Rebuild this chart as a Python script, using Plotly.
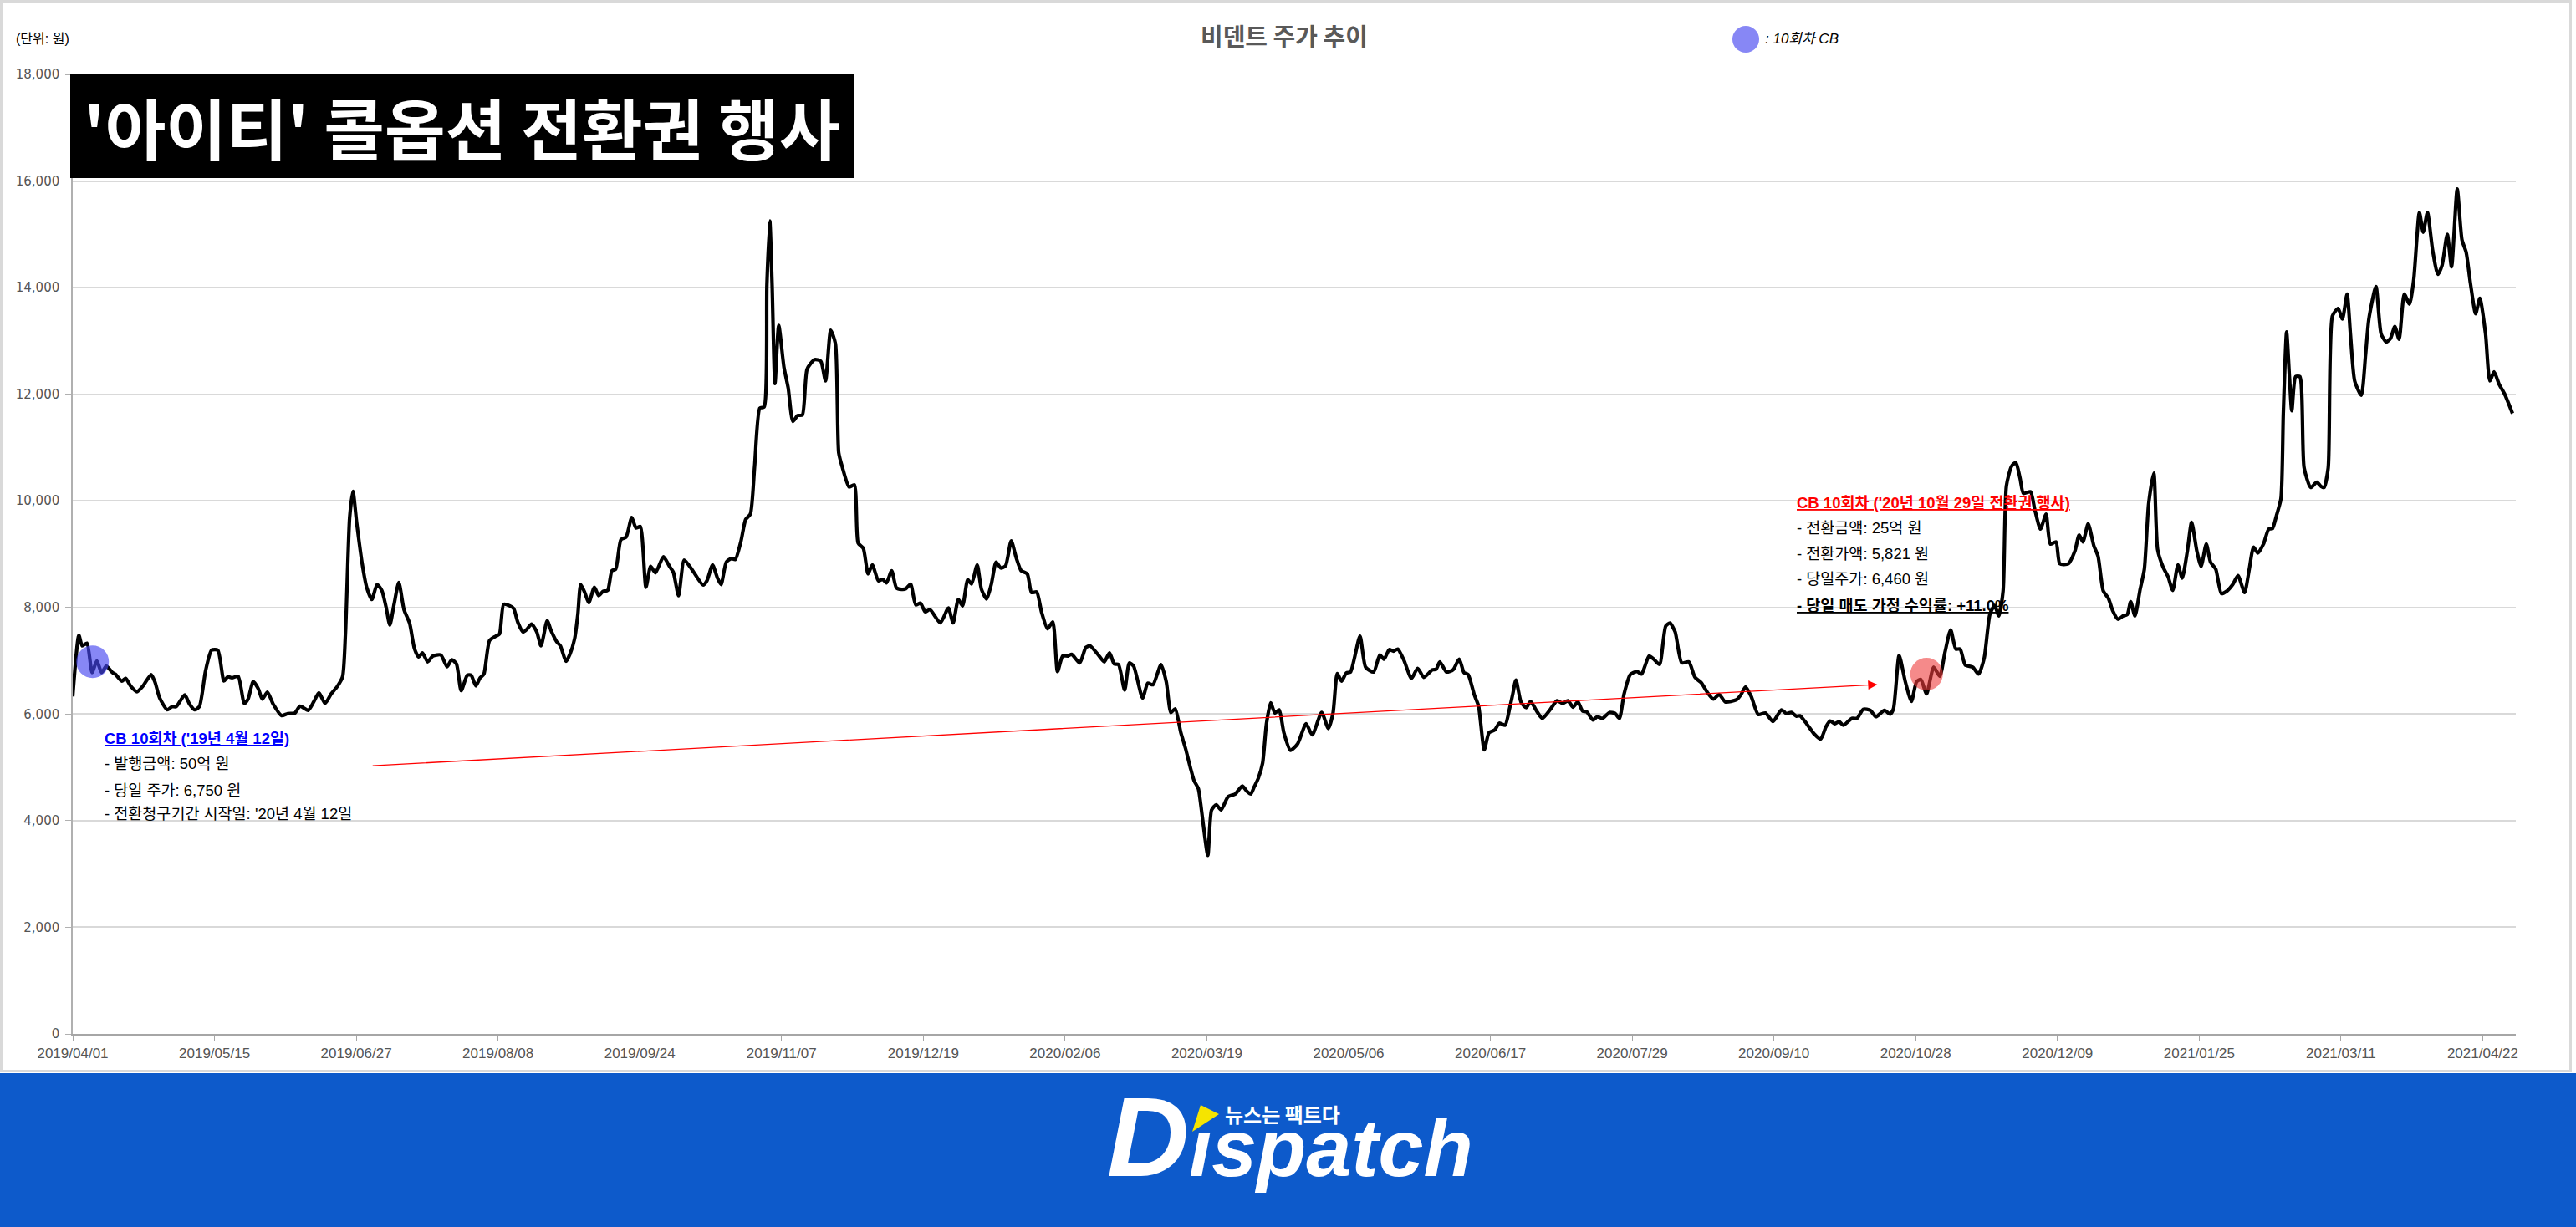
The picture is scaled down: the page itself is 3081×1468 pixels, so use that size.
import plotly.graph_objects as go

# ---------------- data ----------------
tick_labels = ["2019/04/01", "2019/05/15", "2019/06/27", "2019/08/08", "2019/09/24", "2019/11/07",
               "2019/12/19", "2020/02/06", "2020/03/19", "2020/05/06", "2020/06/17", "2020/07/29",
               "2020/09/10", "2020/10/28", "2020/12/09", "2021/01/25", "2021/03/11", "2021/04/22"]
tick_index = [i * 30 for i in range(len(tick_labels))]   # trading-day index of each label

# trading-day index (read positions) and closing price (원)
day_a = [0, 1.3, 2, 3, 4.1, 5.1, 6.1, 7.1, 8.4, 9, 10.4, 11.2, 12.3, 13.6, 14.8, 16.6, 17.4, 18.4, 20, 21,
         21.9, 23.7, 24.7, 25.8, 26.8, 28.1, 29.4, 30.7, 32, 32.8, 33.7, 35, 36.3, 37.1, 38.2, 39.3, 40.1,
         41.2, 42.4, 44.2, 45.5, 47, 48.1, 49.8, 51, 52.1, 53.4, 54.7, 56, 57.1, 57.7, 58.6, 59.3, 60.1,
         61.2, 62.2, 63.3, 64.4, 65.4, 66.3, 67.1, 68, 69, 70.1, 71.3, 72.3, 73.2, 74, 75.1, 76.2, 77.9,
         79.2, 80.2, 81.2, 82.2, 83.5, 84.3, 85.3, 86.2, 87, 88.2, 89.5, 90.3, 91.2, 92.5, 93.3, 94.2,
         95.3, 96.1, 97.1, 98.2, 99.1, 100.4, 101.3, 102.4, 103.2, 104.4, 105.2, 106.2, 106.9, 107.5,
         108.4, 109.2, 110.4, 111.3, 112.2, 113.2, 114.1, 114.9, 116, 117.1, 118.3, 119.2, 120.1, 121.3,
         122.3, 123.3, 125, 126.3]
price_a = [6330, 7480, 7280, 7330, 6780, 7000, 6780, 6900, 6780, 6750, 6620, 6670, 6520, 6420, 6520, 6740,
           6600, 6300, 6080, 6140, 6140, 6360, 6190, 6080, 6140, 6810, 7200, 7200, 6620, 6700, 6680, 6710,
           6200, 6280, 6610, 6470, 6280, 6410, 6190, 5970, 6010, 6020, 6150, 6070, 6230, 6400, 6200, 6380,
           6520, 6700, 7490, 9690, 10180, 9580, 8850, 8380, 8150, 8430, 8320, 8010, 7670, 8060, 8470, 7960,
           7700, 7230, 7070, 7150, 6980, 7090, 7110, 6890, 7020, 6940, 6440, 6730, 6730, 6530, 6680, 6750,
           7380, 7460, 7500, 8060, 8030, 7980, 7720, 7540, 7590, 7690, 7540, 7280, 7750, 7550, 7360, 7280,
           6990, 7120, 7410, 7880, 8430, 8270, 8090, 8380, 8220, 8300, 8320, 8690, 8720, 9270, 9320, 9690,
           9490, 9520, 8380, 8770, 8650, 8950, 8770]

day_b = [127.1, 128.2, 129.4, 131.2, 133.4, 134.2, 135.4, 136.4, 137.2, 138.3, 139.4, 140.2, 141.4, 142.4,
         143.4, 144.3, 145.4, 146.3, 146.9, 147.5, 148, 148.6, 149.4, 150.5, 151.4, 152.4, 153.4, 154.4,
         155.4, 157, 158.3, 159.3, 160.4, 161.4, 162.1, 162.8, 164.3, 165.4, 166.2, 167.3, 168.3, 169.2,
         170.5, 171.4, 172.2, 173.3, 174.3, 175.4, 176.3, 177.3, 178.4, 179.4, 180.4, 181.4, 183.6, 185.3,
         186.3, 187.4, 188.3, 189.4, 190.2, 191.4, 192.3, 193.4, 194.4, 195.4, 196.4, 197.4, 198.6, 199.7,
         200.7, 202, 202.9, 204, 205, 206.3, 207.4, 208.4, 209.5, 210.6, 211.4, 213.1, 214.4, 215.3, 217.2,
         218.3, 219.4, 220.4, 221.3, 222.6, 223.6, 224.5, 226.4, 227.5, 228.6, 230.3, 231.4, 232.4, 233.3]
price_b = [8660, 8220, 8890, 8690, 8420, 8500, 8800, 8560, 8430, 8850, 8920, 8900, 9240, 9650, 9750, 10650,
           11740, 11760, 14050, 15250, 14050, 12200, 13290, 12510, 12120, 11490, 11600, 11610, 12470, 12650,
           12620, 12250, 13200, 12950, 10900, 10650, 10260, 10300, 9210, 9110, 8630, 8800, 8500, 8530, 8460,
           8690, 8370, 8340, 8350, 8440, 8050, 8080, 7920, 7960, 7710, 7990, 7710, 8150, 8030, 8520, 8440,
           8800, 8340, 8160, 8440, 8850, 8740, 8780, 9250, 8920, 8690, 8630, 8280, 8290, 7920, 7600, 7730,
           6800, 7090, 7090, 7120, 6960, 7250, 7280, 7090, 6980, 7150, 6940, 6930, 6450, 6960, 6900, 6300,
           6580, 6550, 6930, 6610, 6030, 6100]

day_c = [234.5, 235.5, 236.5, 237.3, 238.2, 239, 240.2, 241, 242, 243, 244.5, 246, 247.5, 248.5, 249.3,
         250, 250.9, 251.8, 252.6, 253.5, 254.4, 255.3, 256.3, 257.7, 259.2, 261, 262.3, 264.3, 265.7, 266.7,
         267.6, 268.5, 269.5, 270.4, 272.4, 273.6, 275.3, 276.6, 277.5, 278.6, 279.5, 280.4, 281.7, 283.3,
         284.6, 285.9, 287.7, 288.5, 289.3, 290.7, 292.1, 293.4, 294.4, 295.3, 296.6, 297.5, 298.7, 299.7,
         300.9, 301.9, 303.1, 304.1, 304.7, 305.4, 306.5, 307.6, 308.5, 309.7, 311, 312.7, 314.1, 315.3,
         316.4, 317.5, 318.5, 319.5, 320.4, 321.7, 322.6, 323.7, 325.2, 326.4, 327.3, 328.3, 329.6, 331, 332,
         332.7, 333.6, 334.7, 335.8, 337.1, 338, 339.1, 340.5, 342, 343.3, 344.6, 345.9, 347.2, 348.4, 349.7,
         352.1, 353, 354, 355.2, 356.7, 358.2, 359.8, 361.6, 362.6, 363.7, 364.8, 365.5, 367, 368.6, 369.9,
         371, 371.9, 372.9, 373.8, 374.7, 376.5, 377.6, 378.9]
price_c = [5650, 5350, 5000, 4750, 4600, 4100, 3350, 4200, 4300, 4200, 4450, 4500, 4650, 4550, 4500,
           4630, 4800, 5080, 5810, 6210, 6020, 6080, 5650, 5320, 5440, 5820, 5610, 6030, 5730, 6020, 6760,
           6620, 6770, 6790, 7460, 6880, 6790, 7110, 7030, 7210, 7180, 7220, 7010, 6670, 6860, 6690, 6830,
           6840, 6980, 6790, 6830, 7030, 6780, 6740, 6360, 6150, 5330, 5650, 5700, 5830, 5790, 6120, 6360,
           6640, 6220, 6120, 6240, 6070, 5920, 6090, 6250, 6200, 6250, 6130, 6230, 6060, 6040, 5890, 5950,
           5920, 6030, 6010, 5920, 6380, 6740, 6800, 6750, 6900, 7090, 7020, 6930, 7650, 7710, 7540, 6960,
           6980, 6690, 6590, 6410, 6280, 6370, 6230, 6270, 6360, 6510, 6330, 5990, 6020, 5860, 6080, 6010,
           6030, 5960, 5970, 5810, 5620, 5530, 5760, 5870, 5820, 5860, 5790, 5920, 5920, 6090]

day_d = [380.4, 381.6, 383.4, 384.6, 385.3, 386.5, 387.8, 389.1, 390.2, 391.1, 392.3, 393.8, 395.1, 396.2,
         397.4, 398.5, 399.4, 400.5, 402.1, 403.3, 404.5, 405.7, 406.7, 407.6, 408.5, 409.2, 410.3, 411.2,
         412.1, 412.8, 414.3, 415.2, 416.4, 417.6, 418.5, 419.7, 420.5, 422.3, 423.7, 424.6, 425.4, 426.5,
         427.7, 428.6, 429.7, 430.8, 431.7, 432.8, 433.9, 434.8, 435.5, 436.4, 437.5, 438.4, 439.3, 440.4,
         441.2, 442.4, 443.4, 444.4, 445.5, 446.4, 447.5, 448.4, 449.5, 450.4, 451.5, 452.4, 453.5, 454.7,
         455.9, 457.1, 458.2, 459.6, 460.6, 461.5, 462.4, 463.6, 464.7, 465.5, 466.4, 467.3, 467.8, 468.5,
         469.1, 469.6, 470.4, 471.3, 472.2, 473.6, 474.9, 475.8, 476.4, 477.3, 478.2, 479.4, 480.3, 481.3,
         482, 482.9, 484.3, 485.2, 485.9, 487.4, 488.5, 489.6, 490.5, 491.4, 492.3, 493.4, 494.5, 495.4,
         496.6, 497.4, 498.3, 499.4, 500.5, 501.4, 502.5, 503.4, 504.6, 505.6, 506.5, 507.4, 508.5, 509.4,
         510.6, 511.5, 512.4, 513.5, 514.6, 516.3]
price_d = [6070, 5950, 6070, 6000, 6100, 7100, 6610, 6240, 6610, 6650, 6380, 6880, 6710, 7160, 7580, 7220,
           7220, 6920, 6880, 6750, 7050, 7870, 8040, 7840, 8310, 10280, 10650, 10720, 10420, 10140, 10170,
           9840, 9470, 9750, 9190, 9230, 8820, 8820, 9060, 9360, 9230, 9570, 9160, 8960, 8310, 8170, 7940,
           7780, 7840, 7870, 8110, 7840, 8340, 8720, 9940, 10520, 9090, 8750, 8580, 8320, 8800, 8550, 9060,
           9600, 9060, 8770, 9190, 8850, 8720, 8260, 8310, 8430, 8600, 8280, 8720, 9130, 9020, 9190, 9470,
           9480, 9740, 10040, 11640, 13170, 12320, 11690, 12330, 12330, 10620, 10250, 10350, 10270, 10250,
           10620, 13470, 13610, 13410, 13880, 13130, 12250, 11980, 12730, 13410, 14020, 13130, 12980, 13050,
           13270, 13030, 13880, 13690, 14150, 15410, 15040, 15410, 14700, 14250, 14420, 15000, 14390, 15850,
           14900, 14660, 14080, 13510, 13800, 13130, 12250, 12420, 12180, 12010, 11640]

days = day_a + day_b + day_c + day_d
prices = price_a + price_b + price_c + price_d

# CB event markers (issue 2019/04/12, conversion 2020/10/29)
event_day = [4.2, 392.3]
event_price = [6980, 6750]
event_color = ["rgba(70,70,240,0.65)", "rgba(238,60,60,0.6)"]

# arrow from issue note to conversion point
arrow_from = (63.2, 5030)
arrow_to = (381.9, 6555)

# ---------------- layout helpers ----------------
W, H = 3081, 1468
L, R, T, B = 87, 3009, 89, 1237


def px(x):
    return (x - L) / (R - L)


def py(y):
    return (B - y) / (B - T)


LAT = "Liberation Sans, Arial, Noto Sans CJK KR"
KR = "Noto Sans CJK KR"

fig = go.Figure()
fig.add_trace(go.Scatter(x=days, y=prices, mode="lines",
                         line=dict(color="black", width=4.2, shape="spline", smoothing=0.6),
                         hoverinfo="skip", showlegend=False))
fig.add_trace(go.Scatter(x=event_day, y=event_price, mode="markers",
                         marker=dict(size=39, color=event_color, line=dict(width=0)),
                         hoverinfo="skip", showlegend=False))

shapes = [
    # outer chart frame
    dict(type="rect", xref="paper", yref="paper", x0=px(1.5), x1=px(3074.5), y0=py(1281.5), y1=py(1.5),
         line=dict(color="#d9d9d9", width=3), layer="below"),
    # blue footer band
    dict(type="rect", xref="paper", yref="paper", x0=px(0), x1=px(W), y0=py(H), y1=py(1284),
         fillcolor="#0d5acb", line=dict(width=0), layer="below"),
    # black title box
    dict(type="rect", xref="paper", yref="paper", x0=px(84), x1=px(1021), y0=py(213), y1=py(89),
         fillcolor="black", line=dict(width=0), layer="above"),
    # legend bubble
    dict(type="circle", xref="paper", yref="paper", x0=px(2072), x1=px(2104), y0=py(63), y1=py(31),
         fillcolor="rgba(70,70,240,0.65)", line=dict(width=0)),
    # yellow triangle of logo
    dict(type="path", xref="paper", yref="paper",
         path=f"M{px(1436)},{py(1322)} L{px(1458)},{py(1333)} L{px(1426)},{py(1354)} Z",
         fillcolor="#f5e400", line=dict(width=0)),
]

ann = []


def text(x, y, s, size, color="black", family=LAT, xanchor="left", yanchor="middle"):
    ann.append(dict(x=px(x), y=py(y), xref="paper", yref="paper", text=s, showarrow=False,
                    xanchor=xanchor, yanchor=yanchor, font=dict(size=size, color=color, family=family)))


text(1536, 42, "<b>비덴트 주가 추이</b>", 29, "#595959", KR, xanchor="center")
text(17, 47, "(단위: 원)", 16, "black", LAT)
text(2109, 47, "<i>: 10회차 CB</i>", 17, "black", LAT)
text(552, 151, "<b>'아이티' 콜옵션 전환권 행사</b>", 79, "white", KR, xanchor="center")

# blue note
text(123, 884, "<b><u>CB 10회차 ('19년 4월 12일)</u></b>", 18.5, "#0000ff")
text(123, 913, "- 발행금액: 50억 원", 18.5)
text(123, 945, "- 당일 주가: 6,750 원", 18.5)
text(123, 973, "- 전환청구기간 시작일: '20년 4월 12일", 18.5)

# red note
text(2147, 601, "<b><u>CB 10회차 ('20년 10월 29일 전환권 행사)</u></b>", 18.5, "#ff0000")
text(2147, 631, "- 전환금액: 25억 원", 18.5)
text(2147, 662, "- 전환가액: 5,821 원", 18.5)
text(2147, 692, "- 당일주가: 6,460 원", 18.5)
text(2147, 724, "<b><u>- 당일 매도 가정 수익률: +11.0%</u></b>", 18.5)

# logo
ann.append(dict(x=px(1322), y=py(1438), xref="paper", yref="paper", showarrow=False,
                xanchor="left", yanchor="bottom",
                text="<b><i><span style='font-size:136px'>D</span>ıspatch</i></b>",
                font=dict(size=97, color="white", family="Liberation Sans, Arial")))
text(1463, 1332, "<b>뉴스는 팩트다</b>", 24, "white", KR)

# arrow
ann.append(dict(x=arrow_to[0], y=arrow_to[1], ax=arrow_from[0], ay=arrow_from[1],
                xref="x", yref="y", axref="x", ayref="y", text="", showarrow=True,
                arrowhead=2, arrowsize=1.7, arrowwidth=1.3, arrowcolor="#ff0000"))

fig.update_layout(
    width=W, height=H,
    margin=dict(l=L, r=W - R, t=T, b=H - B, pad=0),
    paper_bgcolor="white", plot_bgcolor="white",
    shapes=shapes, annotations=ann, showlegend=False,
    xaxis=dict(range=[0, 517], tickmode="array", tickvals=tick_index, ticktext=tick_labels,
               showgrid=False, zeroline=False, showline=True, linecolor="#a6a6a6", linewidth=1.5,
               ticks="outside", ticklen=7, tickcolor="#a6a6a6", tickwidth=1.2,
               tickfont=dict(size=17, color="#555555", family=LAT)),
    yaxis=dict(range=[0, 18000], dtick=2000, tickformat=",", showgrid=True, gridcolor="#d9d9d9",
               gridwidth=1.5, zeroline=False, showline=True, linecolor="#b0b0b0", linewidth=1.5,
               ticks="outside", ticklen=7, tickcolor="#b0b0b0", tickwidth=1.2, ticklabelstandoff=4,
               tickfont=dict(size=15, color="#555555", family="DejaVu Sans")),
)

fig.write_html("out.html", config={"displayModeBar": False},
               post_script="document.body.style.margin='0';document.body.style.overflow='hidden';")
